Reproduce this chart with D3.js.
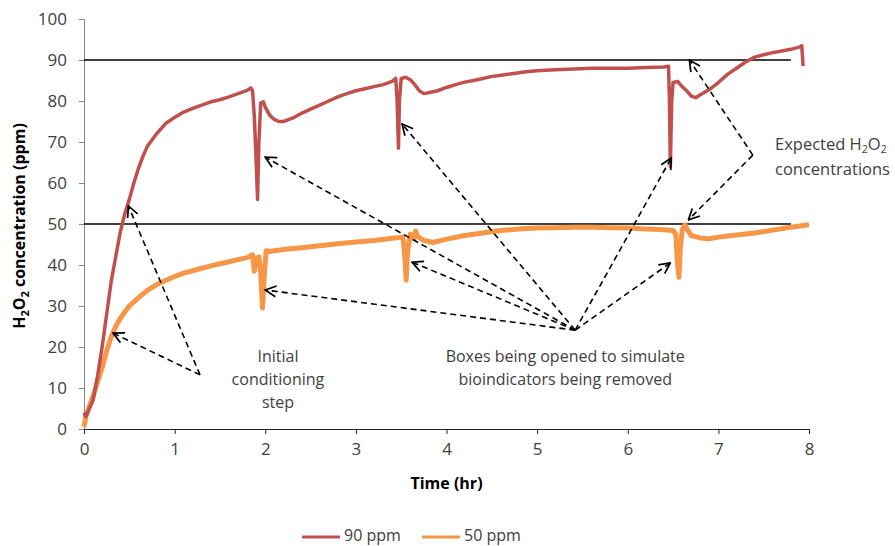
<!DOCTYPE html>
<html><head><meta charset="utf-8">
<script src="https://cdn.jsdelivr.net/npm/d3@7"></script>
<style>body{margin:0;background:#fff}svg{display:block}text{font-family:"Open Sans",sans-serif}</style>
</head><body><svg id="c" width="895" height="546"></svg>
<script>
// ---- data ----
const xTicks = [0,1,2,3,4,5,6,7,8];
const yTicks = [0,10,20,30,40,50,60,70,80,90,100];
const seriesNames = ["90 ppm","50 ppm"];
const red90 = [[0,4],[0.02,3],[0.05,4.5],[0.1,7],[0.15,13],[0.2,20],[0.25,28],[0.3,36],[0.35,42],[0.4,48],[0.45,52.5],[0.5,56],[0.55,60],[0.6,63.5],[0.65,66.5],[0.7,69],[0.75,70.5],[0.8,72],[0.9,74.5],[1.0,76],[1.1,77.3],[1.2,78.2],[1.3,79],[1.4,79.8],[1.5,80.3],[1.6,81],[1.7,81.8],[1.8,82.6],[1.84,83.2],[1.86,82.5],[1.88,76],[1.9,65],[1.915,56],[1.93,70],[1.95,79.5],[1.98,79.8],[2.0,78.5],[2.05,76.5],[2.1,75.5],[2.15,75],[2.2,75],[2.3,75.8],[2.4,77],[2.5,78],[2.6,79],[2.7,80],[2.8,81],[2.9,81.8],[3.0,82.5],[3.1,83],[3.2,83.5],[3.3,84],[3.4,84.8],[3.44,85.5],[3.455,80],[3.47,68.5],[3.48,80],[3.5,85.5],[3.55,85.8],[3.6,85.2],[3.65,84],[3.7,82.5],[3.75,81.8],[3.8,82],[3.9,82.5],[4.0,83.3],[4.1,84],[4.2,84.6],[4.3,85],[4.4,85.5],[4.5,86],[4.6,86.3],[4.7,86.6],[4.8,86.9],[4.9,87.2],[5.0,87.4],[5.2,87.6],[5.4,87.8],[5.6,88],[5.8,88],[6.0,88],[6.2,88.2],[6.4,88.3],[6.45,88.5],[6.46,80],[6.47,64],[6.485,80],[6.5,84.5],[6.55,84.8],[6.6,83.5],[6.65,82.5],[6.7,81.2],[6.75,80.8],[6.8,81.5],[6.9,82.8],[7.0,84.5],[7.1,86.5],[7.2,88],[7.3,89.5],[7.4,90.7],[7.5,91.3],[7.6,91.8],[7.7,92.2],[7.8,92.6],[7.9,93.2],[7.92,93.5],[7.935,88.5]];
const orange50 = [[0,0.5],[0.02,3],[0.05,5],[0.1,8],[0.15,11.5],[0.2,15],[0.25,19],[0.3,22.5],[0.35,25],[0.4,27],[0.5,30],[0.6,32],[0.7,33.8],[0.8,35.2],[0.9,36.2],[1.0,37.2],[1.1,38],[1.2,38.6],[1.3,39.2],[1.4,39.8],[1.5,40.3],[1.6,40.8],[1.7,41.3],[1.8,41.8],[1.86,42.5],[1.88,38.5],[1.9,41.5],[1.93,42],[1.95,38],[1.97,29.5],[1.99,38],[2.01,43.5],[2.05,43.3],[2.1,43.5],[2.2,43.8],[2.4,44.2],[2.6,44.7],[2.8,45.2],[3.0,45.6],[3.2,46],[3.4,46.5],[3.52,46.8],[3.54,42],[3.555,36.3],[3.57,43],[3.6,47.5],[3.64,46.5],[3.66,48.3],[3.68,47],[3.75,46],[3.85,45.5],[4.0,46.3],[4.2,47.2],[4.4,47.8],[4.6,48.4],[4.8,48.8],[5.0,49],[5.2,49.1],[5.4,49.2],[5.6,49.2],[5.8,49.1],[6.0,49],[6.2,48.8],[6.4,48.6],[6.5,48.4],[6.53,47.5],[6.55,40],[6.565,37],[6.58,44],[6.6,48.5],[6.63,49.8],[6.66,48.5],[6.7,47.2],[6.8,46.6],[6.9,46.4],[7.0,46.8],[7.2,47.3],[7.4,47.8],[7.6,48.5],[7.8,49.2],[8.0,49.8]];
const refLevels = [90,50];
const refEnd = 7.8;
// annotation arrows: [from, to] in data units
const initialArrows = [[[1.28,13.2],[0.49,54.4]],[[1.28,13.2],[0.32,23.4]]];
const boxArrows = [[[5.42,24.1],[2.0,33.9]],[[5.42,24.1],[2.0,66.3]],[[5.42,24.1],[3.51,74.4]],[[5.42,24.1],[3.62,40.7]],[[5.42,24.1],[6.47,40.5]],[[5.42,24.1],[6.48,66.1]]];
const expectedArrows = [[[7.38,66.8],[6.68,90]],[[7.38,66.8],[6.67,51]]];

// ---- chart ----
const svg = d3.select("#c");
const x = d3.scaleLinear().domain([0,8]).range([84,809]);
const y = d3.scaleLinear().domain([0,100]).range([429,19]);
const colors = ["#c0504d","#f79646"];
const txt = "#404040";

// y axis
const ya = svg.append("g").attr("transform","translate(84,0)")
  .call(d3.axisLeft(y).tickValues(yTicks).tickSize(5).tickPadding(12));
ya.select(".domain").attr("stroke","#868686");
ya.selectAll(".tick line").attr("stroke","#868686");
ya.selectAll(".tick text").attr("font-size",17).attr("fill",txt).attr("font-family","Open Sans");
// x axis
const xa = svg.append("g").attr("transform","translate(0,429)")
  .call(d3.axisBottom(x).tickValues(xTicks).tickSize(5).tickPadding(9));
xa.select(".domain").attr("stroke","#222");
xa.selectAll(".tick line").attr("stroke","#222");
xa.selectAll(".tick text").attr("font-size",17).attr("fill",txt).attr("font-family","Open Sans");

// reference lines
svg.selectAll(".ref").data(refLevels).join("line")
  .attr("x1",x(0)).attr("x2",x(refEnd)).attr("y1",d=>y(d)).attr("y2",d=>y(d))
  .attr("stroke","#000").attr("stroke-width",1.5);

// series
const line = d3.line().x(d=>x(d[0])).y(d=>y(d[1]));
svg.append("path").datum(orange50).attr("d",line).attr("fill","none")
  .attr("stroke",colors[1]).attr("stroke-width",5).attr("stroke-linejoin","round");
svg.append("path").datum(red90).attr("d",line).attr("fill","none")
  .attr("stroke",colors[0]).attr("stroke-width",3.5).attr("stroke-linejoin","round");

// arrows
svg.append("defs").append("marker").attr("id","ah").attr("viewBox","0 0 12 12")
  .attr("refX",11).attr("refY",6).attr("markerWidth",13).attr("markerHeight",13)
  .attr("markerUnits","userSpaceOnUse").attr("orient","auto")
  .append("path").attr("d","M1,1 L11,6 L1,11").attr("fill","none").attr("stroke","#000").attr("stroke-width",1.6);
const arrows = initialArrows.concat(boxArrows, expectedArrows);
svg.selectAll(".arr").data(arrows).join("line")
  .attr("x1",d=>x(d[0][0])).attr("y1",d=>y(d[0][1]))
  .attr("x2",d=>x(d[1][0])).attr("y2",d=>y(d[1][1]))
  .attr("stroke","#000").attr("stroke-width",1.6).attr("stroke-dasharray","6,4")
  .attr("marker-end","url(#ah)");

// annotation texts
function lines(cx, cy, arr, anchor){
  const t = svg.append("text").attr("x",cx).attr("y",cy).attr("font-size",16)
    .attr("fill",txt).attr("text-anchor",anchor);
  arr.forEach((s,i)=>t.append("tspan").attr("x",cx).attr("dy",i?23:0).text(s));
  return t;
}
lines(x(2.14), 362, ["Initial","conditioning","step"], "middle");
lines(x(5.31), 362, ["Boxes being opened to simulate","bioindicators being removed"], "middle");
const et = svg.append("text").attr("x",775).attr("y",150).attr("font-size",16.5).attr("fill",txt);
et.append("tspan").text("Expected H");
et.append("tspan").attr("font-size",10.5).attr("dy",3).text("2");
et.append("tspan").attr("dy",-3).text("O");
et.append("tspan").attr("font-size",10.5).attr("dy",3).text("2");
svg.append("text").attr("x",775).attr("y",175).attr("font-size",16.5).attr("fill",txt).text("concentrations");

// axis titles
svg.append("text").attr("x",x(4)).attr("y",489).attr("text-anchor","middle")
  .attr("font-size",16).attr("font-weight","bold").attr("fill","#000").text("Time (hr)");
const yt = svg.append("text").attr("transform","translate(25,226) rotate(-90)")
  .attr("text-anchor","middle").attr("font-size",16).attr("font-weight","bold").attr("fill","#000");
yt.append("tspan").text("H");
yt.append("tspan").attr("font-size",11).attr("dy",4).text("2");
yt.append("tspan").attr("dy",-4).text("O");
yt.append("tspan").attr("font-size",11).attr("dy",4).text("2");
yt.append("tspan").attr("dy",-4).text(" concentration (ppm)");

// legend
const leg = svg.append("g");
[[302,0],[422,1]].forEach(([lx,i])=>{
  leg.append("line").attr("x1",lx).attr("x2",lx+38).attr("y1",537).attr("y2",537)
    .attr("stroke",colors[i]).attr("stroke-width",3);
  leg.append("text").attr("x",lx+42).attr("y",541).attr("font-size",16).attr("fill",txt).text(seriesNames[i]);
});
</script></body></html>
